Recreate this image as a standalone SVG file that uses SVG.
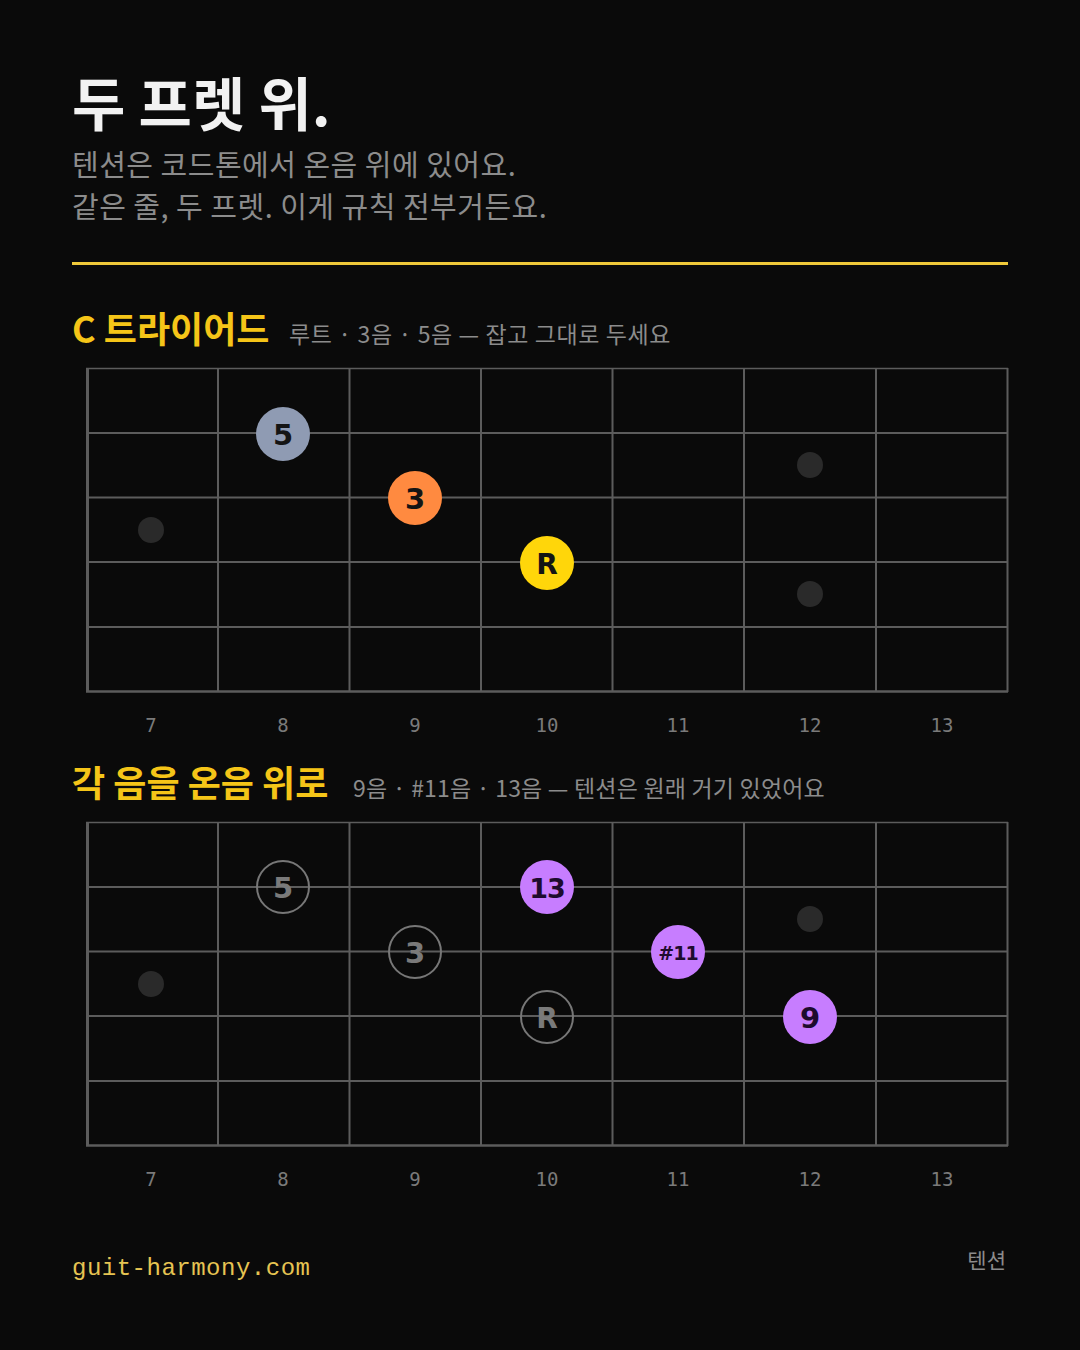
<svg xmlns="http://www.w3.org/2000/svg" width="1080" height="1350" viewBox="0 0 1080 1350">
<style>
.title{font-family:"Noto Sans CJK KR","Noto Sans",sans-serif;font-weight:700;fill:#f2f2f2}
.sub{font-family:"Noto Sans CJK KR","Noto Sans",sans-serif;font-weight:400;fill:#8c8c8c}
.head{font-family:"Noto Sans CJK KR","Noto Sans",sans-serif;font-weight:700;fill:#f5c518}
.fret{font-family:"DejaVu Sans Mono","Liberation Mono",monospace;font-size:19px;fill:#7a7a7a;text-anchor:middle}
.grid line{stroke:#5c5c5c}
.inlay{fill:#2a2a2a}
.note text{font-family:"DejaVu Sans","Liberation Sans",sans-serif;font-weight:700;text-anchor:middle;dominant-baseline:central;fill:#141414}
.ghost circle{fill:none;stroke:#777;stroke-width:2}
.ghost text{fill:#7a7a7a}
.tension circle{fill:#c77dff}
.tension text{fill:#1e0b2e}
</style>
<rect width="1080" height="1350" fill="#0a0a0a"/>

<text class="title" x="72" y="126" font-size="58">두 프렛 위.</text>
<text class="sub" x="72" y="176" font-size="29" letter-spacing="0.5">텐션은 코드톤에서 온음 위에 있어요.</text>
<text class="sub" x="72" y="218" font-size="29" letter-spacing="0.5">같은 줄, 두 프렛. 이게 규칙 전부거든요.</text>
<rect x="72" y="262" width="936" height="3" fill="#f0c93a"/>

<text class="head" x="72" y="343" font-size="36">C 트라이어드</text>
<text class="sub" x="289" y="343" font-size="23" letter-spacing="0.6">루트 · 3음 · 5음 — 잡고 그대로 두세요</text>

<g id="fretboard1" class="grid">
  <line x1="86" y1="368.5" x2="1008" y2="368.5" stroke-width="1.5"/>
  <line x1="86" y1="433" x2="1008" y2="433" stroke-width="2"/>
  <line x1="86" y1="497.5" x2="1008" y2="497.5" stroke-width="2"/>
  <line x1="86" y1="562" x2="1008" y2="562" stroke-width="2"/>
  <line x1="86" y1="627" x2="1008" y2="627" stroke-width="2"/>
  <line x1="86" y1="691.5" x2="1008" y2="691.5" stroke-width="2.5"/>
  <line x1="87.5" y1="368" x2="87.5" y2="692" stroke-width="3" stroke="#4a4a4a"/>
  <line x1="218" y1="368" x2="218" y2="692" stroke-width="2"/>
  <line x1="349.5" y1="368" x2="349.5" y2="692" stroke-width="2"/>
  <line x1="481" y1="368" x2="481" y2="692" stroke-width="2"/>
  <line x1="612.5" y1="368" x2="612.5" y2="692" stroke-width="2"/>
  <line x1="744" y1="368" x2="744" y2="692" stroke-width="2"/>
  <line x1="876" y1="368" x2="876" y2="692" stroke-width="2"/>
  <line x1="1007.5" y1="368" x2="1007.5" y2="692" stroke-width="2"/>
  <circle class="inlay" cx="151" cy="530" r="13"/>
  <circle class="inlay" cx="810" cy="465" r="13"/>
  <circle class="inlay" cx="810" cy="594" r="13"/>
</g>
<g id="frets1">
  <text class="fret" x="151" y="732">7</text>
  <text class="fret" x="283" y="732">8</text>
  <text class="fret" x="415" y="732">9</text>
  <text class="fret" x="547" y="732">10</text>
  <text class="fret" x="678" y="732">11</text>
  <text class="fret" x="810" y="732">12</text>
  <text class="fret" x="942" y="732">13</text>
</g>
<g id="n1-5" class="note"><circle cx="283" cy="434" r="27" fill="#8f9bb3"/><text x="283" y="435" font-size="29">5</text></g>
<g id="n1-3" class="note"><circle cx="415" cy="498" r="27" fill="#ff8a40"/><text x="415" y="499" font-size="29">3</text></g>
<g id="n1-R" class="note"><circle cx="547" cy="563" r="27" fill="#ffd60a"/><text x="547" y="564" font-size="28">R</text></g>

<text class="head" x="72" y="797" font-size="36">각 음을 온음 위로</text>
<text class="sub" x="353" y="797" font-size="23" letter-spacing="0.2">9음 · #11음 · 13음 — 텐션은 원래 거기 있었어요</text>

<g id="fretboard2" class="grid">
  <line x1="86" y1="822.5" x2="1008" y2="822.5" stroke-width="1.5"/>
  <line x1="86" y1="887" x2="1008" y2="887" stroke-width="2"/>
  <line x1="86" y1="951.5" x2="1008" y2="951.5" stroke-width="2"/>
  <line x1="86" y1="1016" x2="1008" y2="1016" stroke-width="2"/>
  <line x1="86" y1="1081" x2="1008" y2="1081" stroke-width="2"/>
  <line x1="86" y1="1145.5" x2="1008" y2="1145.5" stroke-width="2.5"/>
  <line x1="87.5" y1="822" x2="87.5" y2="1146" stroke-width="3" stroke="#4a4a4a"/>
  <line x1="218" y1="822" x2="218" y2="1146" stroke-width="2"/>
  <line x1="349.5" y1="822" x2="349.5" y2="1146" stroke-width="2"/>
  <line x1="481" y1="822" x2="481" y2="1146" stroke-width="2"/>
  <line x1="612.5" y1="822" x2="612.5" y2="1146" stroke-width="2"/>
  <line x1="744" y1="822" x2="744" y2="1146" stroke-width="2"/>
  <line x1="876" y1="822" x2="876" y2="1146" stroke-width="2"/>
  <line x1="1007.5" y1="822" x2="1007.5" y2="1146" stroke-width="2"/>
  <circle class="inlay" cx="151" cy="984" r="13"/>
  <circle class="inlay" cx="810" cy="919" r="13"/>
</g>
<g id="frets2">
  <text class="fret" x="151" y="1186">7</text>
  <text class="fret" x="283" y="1186">8</text>
  <text class="fret" x="415" y="1186">9</text>
  <text class="fret" x="547" y="1186">10</text>
  <text class="fret" x="678" y="1186">11</text>
  <text class="fret" x="810" y="1186">12</text>
  <text class="fret" x="942" y="1186">13</text>
</g>
<g id="n2-5" class="note ghost"><circle cx="283" cy="887" r="26"/><text x="283" y="888" font-size="29">5</text></g>
<g id="n2-3" class="note ghost"><circle cx="415" cy="952" r="26"/><text x="415" y="953" font-size="29">3</text></g>
<g id="n2-R" class="note ghost"><circle cx="547" cy="1017" r="26"/><text x="547" y="1018" font-size="28">R</text></g>
<g id="n2-13" class="note tension"><circle cx="547" cy="887" r="27"/><text x="547" y="888" font-size="27" letter-spacing="-1">13</text></g>
<g id="n2-s11" class="note tension"><circle cx="678" cy="952" r="27"/><text x="678" y="953" font-size="19" letter-spacing="-1">#11</text></g>
<g id="n2-9" class="note tension"><circle cx="810" cy="1017" r="27"/><text x="810" y="1018" font-size="29">9</text></g>

<text x="72" y="1275" font-family="Liberation Mono,DejaVu Sans Mono,monospace" font-size="24" letter-spacing="0.5" fill="#e6c452">guit-harmony.com</text>
<text x="1006" y="1268" font-family="Noto Sans CJK KR,Noto Sans,sans-serif" font-size="21" fill="#8c8c8c" text-anchor="end">텐션</text>
</svg>
